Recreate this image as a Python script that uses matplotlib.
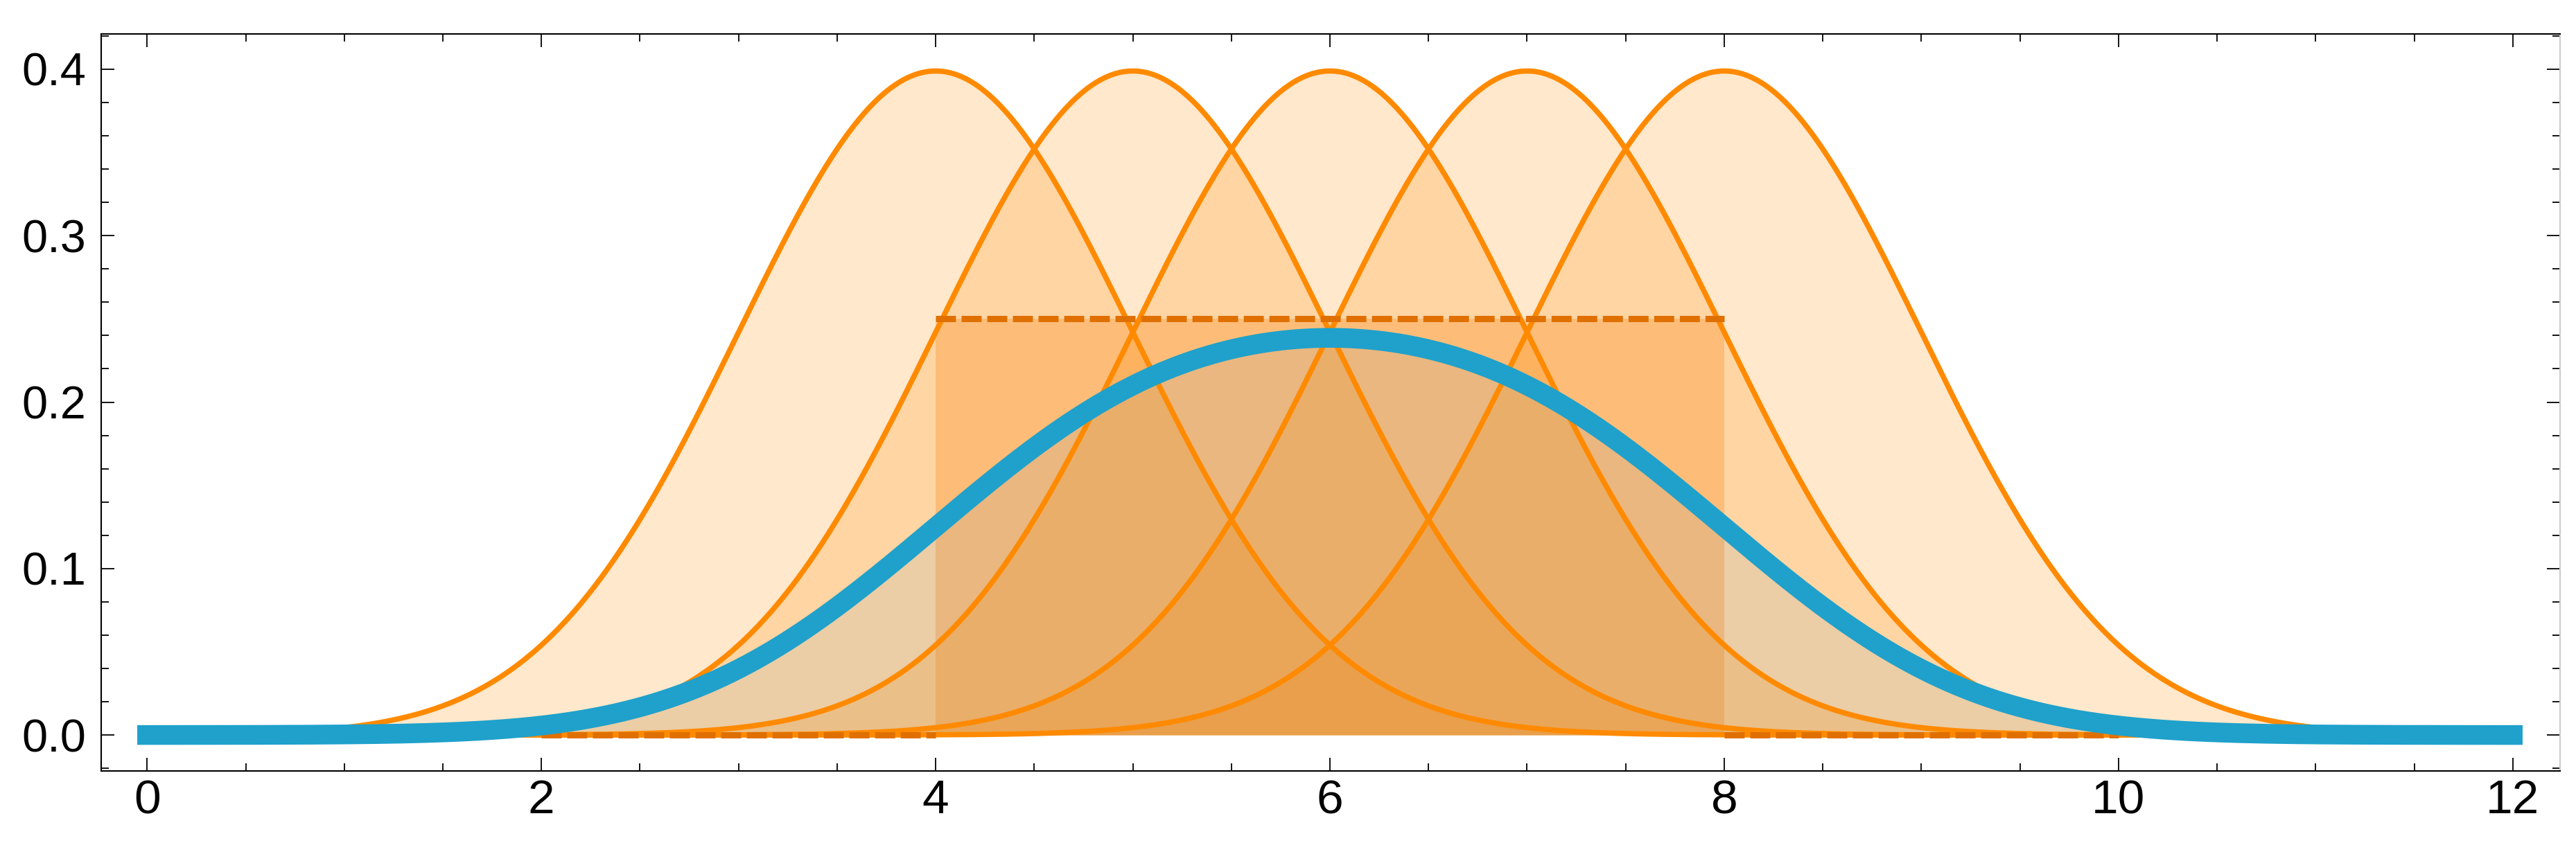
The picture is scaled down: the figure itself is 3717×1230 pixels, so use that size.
import math

import matplotlib

matplotlib.use("Agg")
import matplotlib.pyplot as plt
import numpy as np
from matplotlib.ticker import MultipleLocator

# distribution parameters
NORMAL_MEANS = [4, 5, 6, 7, 8]
NORMAL_SIGMA = 1.0
UNIFORM_LOW, UNIFORM_HIGH = 4.0, 8.0
UNIFORM_PLOT_RANGE = (2.0, 10.0)
X_RANGE = (0.0, 12.0)

X_TICKS = [0, 2, 4, 6, 8, 10, 12]
Y_TICKS = [0.0, 0.1, 0.2, 0.3, 0.4]
Y_TICK_LABELS = ["0.0", "0.1", "0.2", "0.3", "0.4"]

ORANGE = "#ff8a00"
DARK_ORANGE = "#df7000"
BLUE = "#1fa1cb"

plt.rcParams["font.family"] = ["Liberation Sans", "DejaVu Sans"]


def normal_pdf(x, mu, sigma):
    return np.exp(-0.5 * ((x - mu) / sigma) ** 2) / (sigma * math.sqrt(2 * math.pi))


def normal_cdf(x):
    return 0.5 * (1 + np.vectorize(math.erf)(x / math.sqrt(2)))


def uniform_pdf(x, lo, hi):
    return np.where((x >= lo) & (x <= hi), 1.0 / (hi - lo), 0.0)


x = np.linspace(*X_RANGE, 1200)
# uniform smeared by the unit normal
smeared = (normal_cdf((x - UNIFORM_LOW) / NORMAL_SIGMA)
           - normal_cdf((x - UNIFORM_HIGH) / NORMAL_SIGMA)) / (UNIFORM_HIGH - UNIFORM_LOW)

fig = plt.figure(figsize=(37.17, 12.30), dpi=100)
ax = fig.add_axes([146 / 3717, 1 - 1113 / 1230, (3694 - 146) / 3717, (1113 - 49) / 1230])

# fills first
for mu in NORMAL_MEANS:
    ax.fill_between(x, 0, normal_pdf(x, mu, NORMAL_SIGMA), color="#ff8c00", alpha=0.2, lw=0)
xr = np.linspace(UNIFORM_LOW, UNIFORM_HIGH, 50)
ax.fill_between(xr, 0, uniform_pdf(xr, UNIFORM_LOW, UNIFORM_HIGH), color="#fa7a00", alpha=0.26, lw=0)
ax.fill_between(x, 0, smeared, color="#4a8fc0", alpha=0.11, lw=0)

# curves
for mu in NORMAL_MEANS:
    ax.plot(x, normal_pdf(x, mu, NORMAL_SIGMA), color=ORANGE, lw=5.5)

dash = (0, (3.2, 0.9))
for seg in [(UNIFORM_PLOT_RANGE[0], UNIFORM_LOW), (UNIFORM_LOW, UNIFORM_HIGH),
            (UNIFORM_HIGH, UNIFORM_PLOT_RANGE[1])]:
    xs = np.linspace(seg[0], seg[1], 50)
    mid = 0.5 * (seg[0] + seg[1])
    ys = np.full_like(xs, uniform_pdf(np.array([mid]), UNIFORM_LOW, UNIFORM_HIGH)[0])
    ax.plot(xs, ys, color=DARK_ORANGE, lw=6.5, linestyle=dash, dash_capstyle="butt")

ax.plot(x, smeared, color=BLUE, lw=20.5, solid_capstyle="projecting")

ax.set_xlim(-0.233, 12.24)
ax.set_ylim(-0.0216, 0.4212)

ax.set_xticks(X_TICKS)
ax.set_xticklabels([str(t) for t in X_TICKS])
ax.set_yticks(Y_TICKS)
ax.set_yticklabels(Y_TICK_LABELS)
ax.xaxis.set_minor_locator(MultipleLocator(0.5))
ax.yaxis.set_minor_locator(MultipleLocator(0.02))

ax.tick_params(which="both", direction="in", top=True, right=True, color="black", width=1.3)
ax.tick_params(which="major", length=14)
ax.tick_params(which="minor", length=8)
ax.tick_params(axis="x", which="major", labelsize=50, pad=8)
ax.tick_params(axis="y", which="major", labelsize=48, pad=16)

for side in ["left", "bottom", "top"]:
    ax.spines[side].set_linewidth(1.5)
    ax.spines[side].set_color("black")
ax.spines["right"].set_linewidth(1.5)
ax.spines["right"].set_color("#cccccc")

fig.savefig("out.png", dpi=100)
